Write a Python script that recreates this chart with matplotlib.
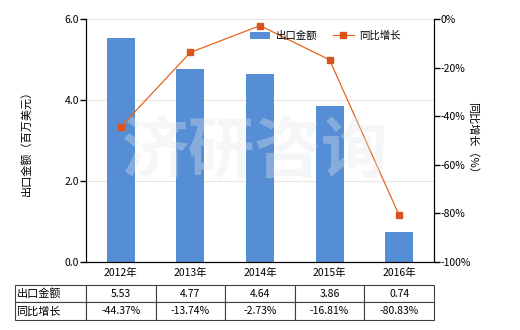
import matplotlib
matplotlib.use("Agg")
import matplotlib.pyplot as plt
import numpy as np

plt.rcParams['font.family'] = ['Noto Sans CJK SC', 'DejaVu Sans']

years = ["2012年", "2013年", "2014年", "2015年", "2016年"]
export_value = [5.53, 4.77, 4.64, 3.86, 0.74]
yoy_growth = [-44.37, -13.74, -2.73, -16.81, -80.83]
value_labels = ["5.53", "4.77", "4.64", "3.86", "0.74"]
growth_labels = ["-44.37%", "-13.74%", "-2.73%", "-16.81%", "-80.83%"]
row_names = ["出口金额", "同比增长"]

bar_color = "#558ED5"
line_color = "#E8641E"
marker_color = "#D9531A"

fig = plt.figure(figsize=(5.2, 3.3), dpi=100)
ax = fig.add_axes([0.1654, 0.2061, 0.6692, 0.7363])
x = np.arange(len(years))

bars = ax.bar(x, export_value, width=0.4, color=bar_color, zorder=2)
ax.set_xlim(-0.5, len(years) - 0.5)
ax.set_ylim(0, 6)
ax.set_yticks([0, 2, 4, 6])
ax.set_yticklabels(["0.0", "2.0", "4.0", "6.0"], fontsize=7.5)
ax.set_xticks(x)
ax.set_xticklabels(years, fontsize=7.5)
ax.grid(axis="y", color="#EAE4DA", linewidth=0.8, zorder=0)
ax.set_axisbelow(True)
ax.spines["top"].set_visible(False)
ax.tick_params(axis="y", length=4, width=1, pad=1)
ax.tick_params(axis="x", length=0, pad=4)
ax.set_ylabel("出口金额（百万美元）", fontsize=8, labelpad=24)

ax2 = ax.twinx()
line, = ax2.plot(x, yoy_growth, color=line_color, linewidth=0.9, marker="s",
                 markersize=4, markerfacecolor=marker_color, markeredgecolor=marker_color,
                 zorder=3)
ax2.set_ylim(-100, 0)
ax2.set_yticks(np.arange(-100, 1, 20))
ax2.set_yticklabels([f"{v}%" for v in range(-100, 1, 20)], fontsize=7.5)
ax2.spines["top"].set_visible(False)
ax2.tick_params(axis="y", length=4, width=1, pad=1)
ax2.set_ylabel("同比增长（%）", fontsize=8, rotation=-90, labelpad=5)

# watermark
fig.text(0.49, 0.54, "济研咨询", fontsize=48, color="#E2E6EA", alpha=0.35,
         ha="center", va="center", zorder=10, fontweight="bold")

ax2.legend([bars, line], row_names, loc="upper right",
           bbox_to_anchor=(0.93, 0.99), ncol=2, frameon=False, fontsize=7.5,
           handlelength=2.0, columnspacing=1.5, handletextpad=0.5)

cells = [[row_names[0]] + value_labels, [row_names[1]] + growth_labels]
lab_w = 71 / 348
col_w = [lab_w] + [1.0 / len(years)] * len(years)
tbl = ax.table(cellText=cells, cellLoc="center", colWidths=col_w,
               bbox=[-lab_w, -0.2387, 1.0 + lab_w, 0.144])
tbl.auto_set_font_size(False)
tbl.set_fontsize(7.5)
for (r, c), cell in tbl.get_celld().items():
    cell.set_edgecolor("#404040")
    cell.set_linewidth(0.8)
    if c == 0:
        cell.get_text().set_ha("left")
        cell.PAD = 0.02
        cell.get_text().set_fontsize(8)

fig.savefig("out.png", dpi=100)
